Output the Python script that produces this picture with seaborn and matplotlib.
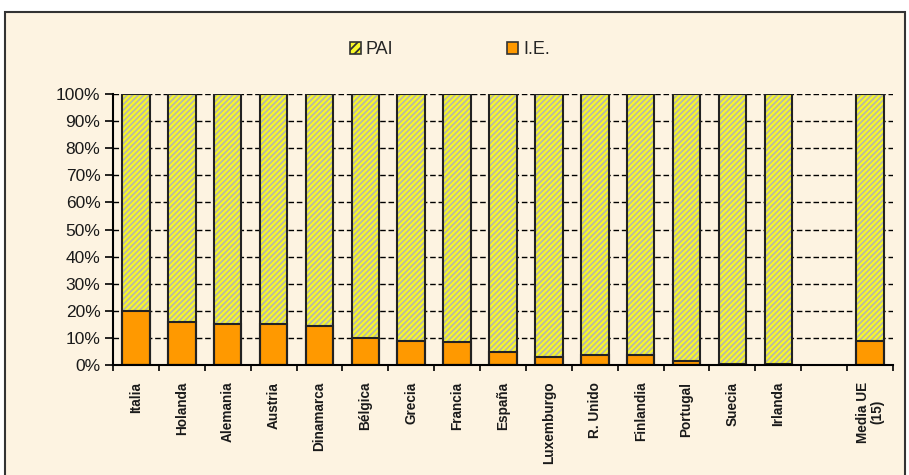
import numpy as np
import pandas as pd
import matplotlib.pyplot as plt
import seaborn as sns
from matplotlib.patches import Rectangle, Patch

# data (percent of total)
paises = ["Italia", "Holanda", "Alemania", "Austria", "Dinamarca", "Bélgica",
          "Grecia", "Francia", "España", "Luxemburgo", "R. Unido", "Finlandia",
          "Portugal", "Suecia", "Irlanda", "", "Media UE\n(15)"]
ie = [20.0, 15.7, 15.2, 15.2, 14.4, 10.0, 8.9, 8.4, 4.8, 3.1, 3.7, 3.7,
      1.3, 0.3, 0.2, np.nan, 8.9]
pai = [80.0, 84.3, 84.8, 84.8, 85.6, 90.0, 91.1, 91.6, 95.2, 96.9, 96.3, 96.3,
       98.7, 99.7, 99.8, np.nan, 91.1]

df = pd.DataFrame({"pais": paises, "IE": ie, "PAI": pai})
df["total"] = df["IE"] + df["PAI"]

yellow = "#F8F82A"
orange = "#FF9900"
hatch_col = "#B9B9A6"

sns.set_theme(style="white")
plt.rcParams["font.family"] = ["Liberation Sans", "DejaVu Sans"]
plt.rcParams["hatch.linewidth"] = 1.3

fig = plt.figure(figsize=(9.09, 4.75), dpi=100)
fig.patch.set_facecolor("white")
fig.add_artist(Rectangle((5 / 909, -0.01), 900 / 909, (475 - 12) / 475 + 0.01,
                         transform=fig.transFigure, facecolor="#FDF3E1",
                         edgecolor="#333333", lw=1.5, zorder=0))

ax = fig.add_axes([113 / 909, 110 / 475, 780 / 909, 271 / 475])
ax.set_facecolor("none")

# PAI (full stack), hatched
sns.barplot(data=df, x="pais", y="total", order=paises, color=yellow,
            width=0.6, saturation=1, linewidth=0, ax=ax)
for p in ax.patches:
    p.set_hatch("//////")
    p.set_edgecolor(hatch_col)
    p.set_linewidth(0)

# I.E. at the bottom
sns.barplot(data=df, x="pais", y="IE", order=paises, color=orange,
            width=0.6, saturation=1, edgecolor="#222222", linewidth=1.5, ax=ax)
# outlines of the full bars
sns.barplot(data=df, x="pais", y="total", order=paises, color="#222222",
            width=0.6, fill=False, linewidth=1.5, ax=ax)

ax.set_ylim(0, 100)
ax.set_xlim(-0.5, len(paises) - 0.5)
yt = list(range(0, 101, 10))
ax.set_yticks(yt)
ax.set_yticklabels([f"{v}%" for v in yt], fontsize=12.5, color="#1a1a1a")
ax.yaxis.grid(True, linestyle=(0, (4, 2)), color="black", lw=1)
ax.set_axisbelow(True)

ax.set_xticks(range(len(paises)))
ax.set_xticklabels(paises, rotation=90, fontsize=9.8, fontweight="bold",
                   color="#1a1a1a", ha="center", va="top", multialignment="center",
                   linespacing=1.0)
ax.set_xticks(np.arange(-0.5, len(paises)), minor=True)
ax.tick_params(axis="x", which="major", length=0, pad=12)
ax.tick_params(axis="x", which="minor", direction="out", length=4, width=1.2,
               color="black", bottom=True)
ax.tick_params(axis="y", direction="out", length=6, width=1.2, color="black",
               left=True, pad=3)
ax.set_xlabel("")
ax.set_ylabel("")

for s in ["top", "right"]:
    ax.spines[s].set_visible(False)
for s in ["left", "bottom"]:
    ax.spines[s].set_color("black")
    ax.spines[s].set_linewidth(1.5)

handles = [Patch(facecolor=yellow, edgecolor="#333333", hatch="////", lw=1.2),
           Patch(facecolor=orange, edgecolor="#333333", lw=1.2)]
fig.legend(handles, ["PAI", "I.E."], loc="center", bbox_to_anchor=(450 / 909, 1 - 50 / 475),
           ncol=2, frameon=False, fontsize=13, handlelength=0.6, handleheight=0.6,
           handletextpad=0.3, columnspacing=6.3)

fig.savefig("out.png", dpi=100)
